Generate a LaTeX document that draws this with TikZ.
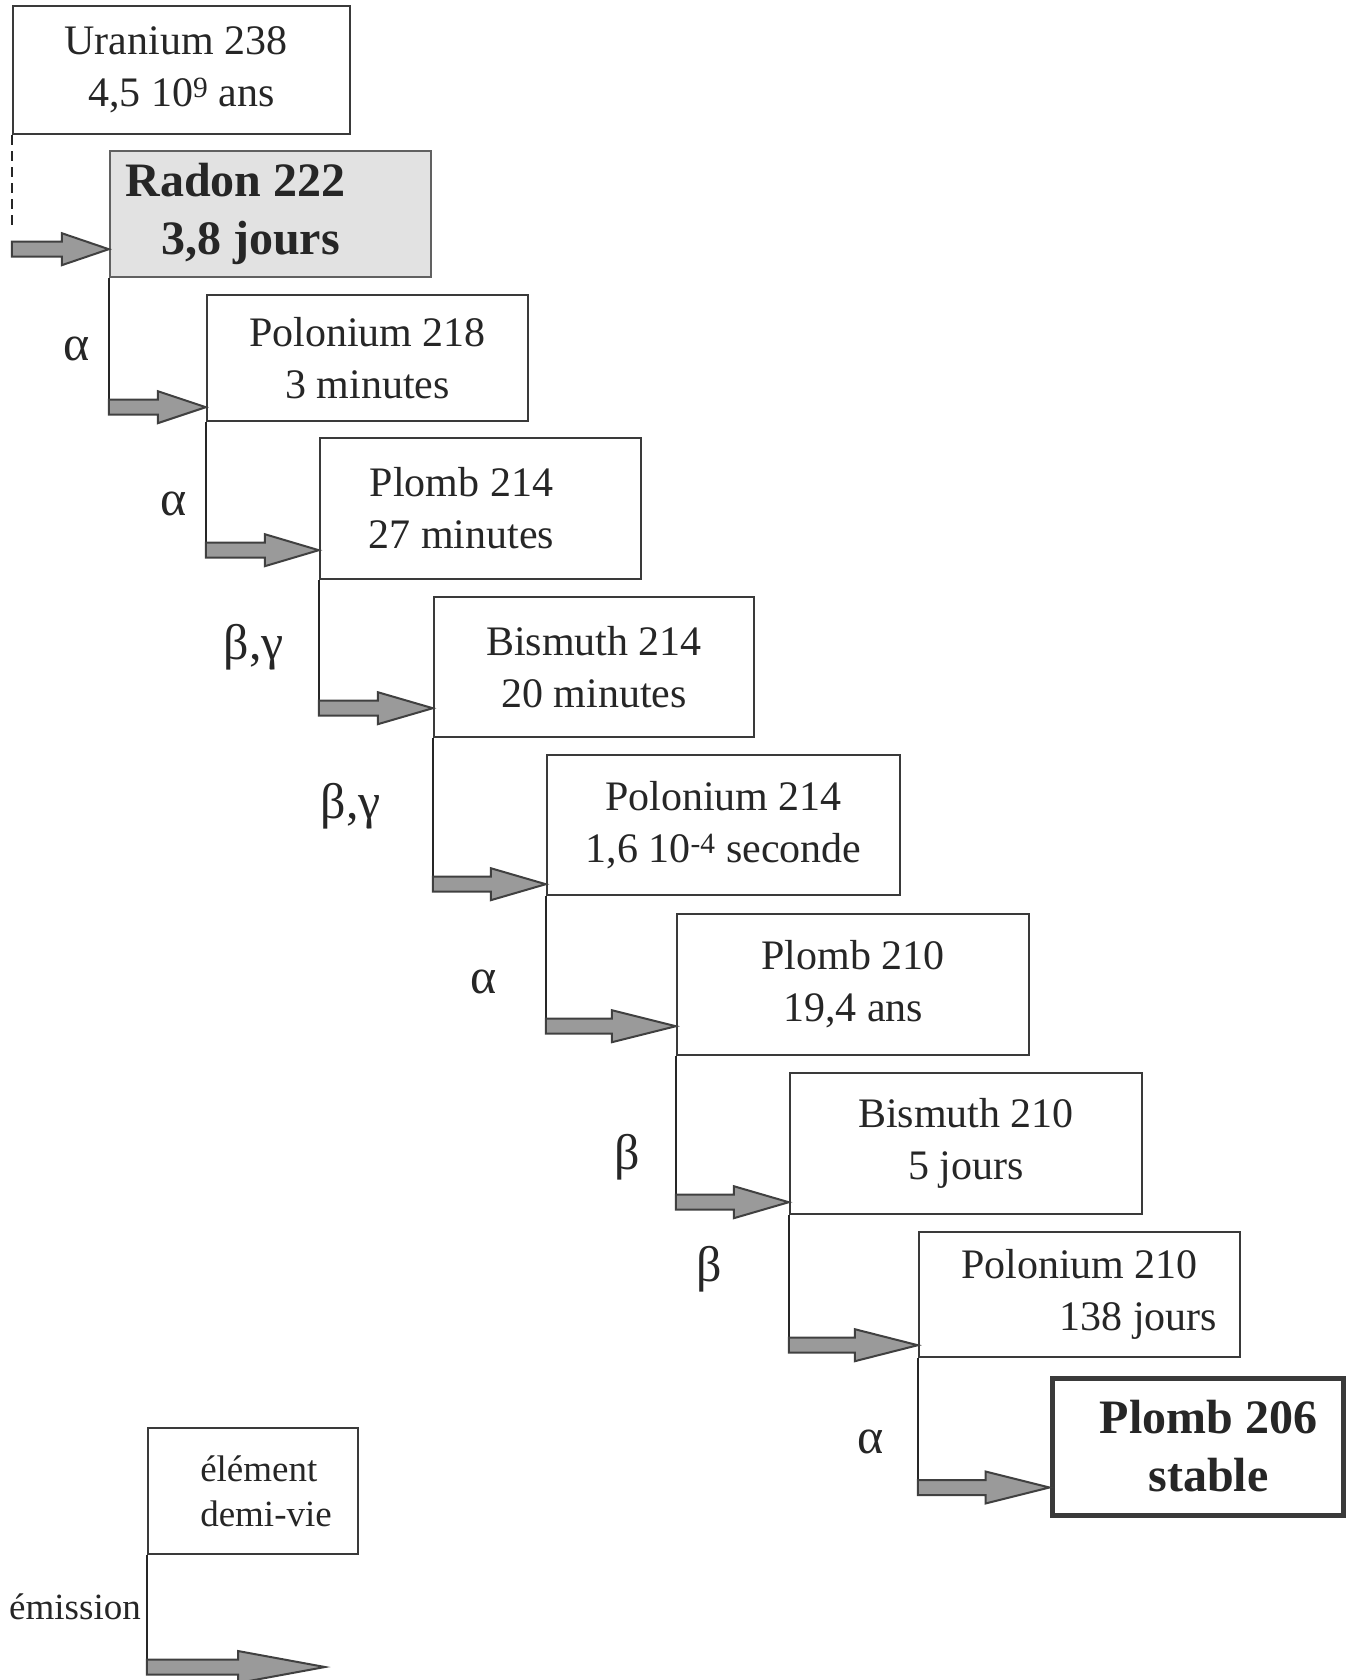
\documentclass[tikz,border=0pt]{standalone}
\usepackage{fontspec}
\setmainfont{Liberation Serif}
\usetikzlibrary{calc}
\definecolor{inkdark}{HTML}{262626}
\definecolor{edgegray}{HTML}{3A3A3A}
\definecolor{radonfill}{HTML}{E2E2E2}
\definecolor{arrowfill}{HTML}{9A9A9A}
\definecolor{arrowedge}{HTML}{404040}
\newcommand\nucfont{\fontsize{42}{52}\selectfont}
\newcommand\nucbold{\fontsize{48}{58}\selectfont\bfseries}
\newcommand\legfont{\fontsize{37}{45}\selectfont}
\tikzset{
  nuc/.style={draw=edgegray,line width=2.4pt,align=center,inner sep=0pt,text=inkdark,font=\nucfont},
  stem/.style={draw=inkdark,line width=2.2pt},
  fat/.style={draw=arrowedge,fill=arrowfill,line width=2pt,line join=miter,
    to path={let \p1=(\tikztostart),\p2=(\tikztotarget) in
      (\x1,\y2+7.5pt) -- (\x2-#1,\y2+7.5pt) -- (\x2-#1,\y2+16pt) -- (\x2,\y2)
      -- (\x2-#1,\y2-16pt) -- (\x2-#1,\y2-7.5pt) -- (\x1,\y2-7.5pt) -- cycle}},
  fat/.default=56pt,
  emis/.style={text=inkdark,font=\fontsize{50}{56}\selectfont}
}

\begin{document}
\begin{tikzpicture}[x=1pt,y=-1pt]
  \useasboundingbox (0,0) rectangle (1347,1680);
  % chaine
  \node[nuc,minimum width=337pt,minimum height=128pt] (u238) at (181.5,70)
    {Uranium 238\hspace*{11pt}\\4,5 10\textsuperscript{9} ans};
  \node[nuc,fill=radonfill,draw=edgegray!80,minimum width=321pt,minimum height=126pt,font=\nucbold]
    (rn222) at (270.5,214) {Radon 222\hspace*{70pt}\\3,8 jours\hspace*{40pt}};
  \node[nuc,minimum width=321pt,minimum height=126pt] (po218) at (367.5,358)
    {Polonium 218\\3 minutes};
  \node[nuc,minimum width=321pt,minimum height=141pt] (pb214) at (480.5,508.5)
    {Plomb 214\hspace*{38pt}\\27 minutes\hspace*{38pt}};
  \node[nuc,minimum width=320pt,minimum height=140pt] (bi214) at (594,667)
    {Bismuth 214\\20 minutes};
  \node[nuc,minimum width=353pt,minimum height=140pt] (po214) at (723.5,825)
    {Polonium 214\\1,6 10\textsuperscript{-4} seconde};
  \node[nuc,minimum width=352pt,minimum height=141pt] (pb210) at (853,984.5)
    {Plomb 210\\19,4 ans};
  \node[nuc,minimum width=352pt,minimum height=141pt] (bi210) at (966,1143.5)
    {Bismuth 210\\5 jours};
  \node[nuc,minimum width=321pt,minimum height=125pt] (po210) at (1079.5,1294.5)
    {Polonium 210\\\hspace*{118pt}138 jours};
  \node[nuc,line width=5pt,minimum width=291pt,minimum height=137pt,font=\nucbold]
    (pb206) at (1197.5,1446.5) {\hspace*{22pt}Plomb 206\\\hspace*{22pt}stable};

  \coordinate (t0) at ([yshift=29pt]rn222.south west);
  \coordinate (t1) at ([yshift=15pt]po218.south west);
  \coordinate (t2) at ([yshift=30pt]pb214.south west);
  \coordinate (t3) at ([yshift=30pt]bi214.south west);
  \coordinate (t4) at ([yshift=12pt]po214.south west);
  \coordinate (t5) at ([yshift=30pt]pb210.south west);
  \coordinate (t6) at ([yshift=13pt]bi210.south west);
  \coordinate (t7) at ([yshift=13pt]po210.south west);
  \coordinate (t8) at ([yshift=30pt]pb206.south west);

  \draw[stem,line width=1.5pt,dash pattern=on 10pt off 6pt] (u238.south west)
    -- ($(u238.south west |- t0)+(0,-21)$);
  \path[fat=47pt] (u238.south west |- t0) to (t0);
  \foreach \src/\tip/\hl in {rn222/t1/48pt,po218/t2/54pt,pb214/t3/55pt,bi214/t4/55pt,
      po214/t5/64pt,pb210/t6/55pt,bi210/t7/63pt,po210/t8/64pt}{
    \draw[stem] (\src.south west) -- (\src.south west |- \tip);
    \path[fat=\hl] (\src.south west |- \tip) to (\tip);
  }

  % emissions
  \node[emis] (e1) at (77,349) {α};
  \node[emis] (e2) at (174,504) {α};
  \node[emis] (e3) at (254,647) {β,γ};
  \node[emis] (e4) at (351,806) {β,γ};
  \node[emis] (e5) at (484,982) {α};
  \node[emis] (e6) at (627,1157) {β};
  \node[emis] (e7) at (709,1269) {β};
  \node[emis] (e8) at (871,1442) {α};

  % legende
  \node[nuc,minimum width=210pt,minimum height=126pt,font=\legfont,align=left] (leg) at (253,1491)
    {\hspace*{26pt}élément\\\hspace*{26pt}demi-vie};
  \node[text=inkdark,font=\legfont,anchor=east,inner sep=0pt] (em) at (141,1607) {émission};
  \coordinate (lt) at (325,1667);
  \draw[stem] (leg.south west) -- (leg.south west |- lt);
  \path[fat=87pt] (leg.south west |- lt) to (lt);
\end{tikzpicture}
\end{document}
